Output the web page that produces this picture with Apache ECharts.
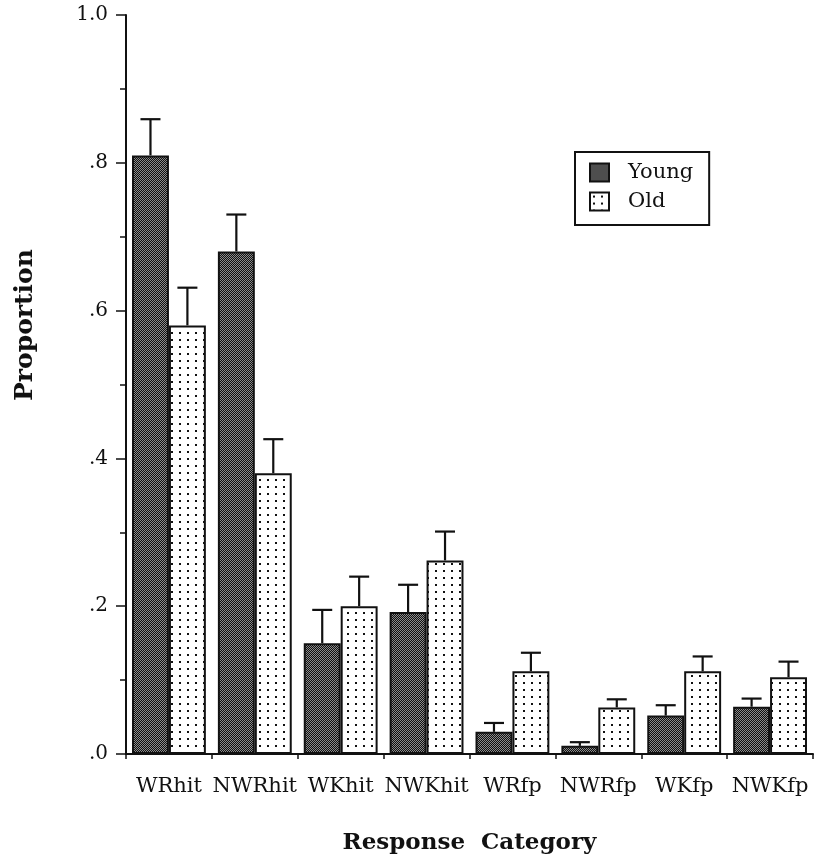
<!DOCTYPE html>
<html>
<head>
<meta charset="utf-8">
<script src="https://cdn.jsdelivr.net/npm/echarts@6/dist/echarts.min.js"></script>
<style>
html,body{margin:0;padding:0;background:#fff;overflow:hidden;}
#chart{width:814px;height:860px;}
</style>
</head>
<body>
<div id="chart"></div>
<script>
// ---- data ----
const categories = ['WRhit', 'NWRhit', 'WKhit', 'NWKhit', 'WRfp', 'NWRfp', 'WKfp', 'NWKfp'];
const youngValues = [0.81, 0.68, 0.15, 0.192, 0.03, 0.011, 0.052, 0.064];
const youngSE     = [0.049, 0.05, 0.045, 0.037, 0.012, 0.005, 0.014, 0.011];
const oldValues   = [0.58, 0.38, 0.20, 0.262, 0.112, 0.063, 0.112, 0.104];
const oldSE       = [0.051, 0.046, 0.04, 0.039, 0.025, 0.011, 0.02, 0.021];
const yTicks = [0, 0.2, 0.4, 0.6, 0.8, 1.0];
const yTickLabels = ['.0', '.2', '.4', '.6', '.8', '1.0'];
const seriesNames = ['Young', 'Old'];

// ---- patterns ----
function makeYoungPattern() {
  const c = document.createElement('canvas');
  c.width = 2; c.height = 2;
  const g = c.getContext('2d');
  g.fillStyle = '#101010';
  g.fillRect(0, 0, 2, 2);
  g.fillStyle = '#8c8c8c';
  g.fillRect(0, 0, 1, 1);
  g.fillRect(1, 1, 1, 1);
  return c;
}
function makeOldPattern() {
  const c = document.createElement('canvas');
  c.width = 8; c.height = 7;
  const g = c.getContext('2d');
  g.fillStyle = '#ffffff';
  g.fillRect(0, 0, 8, 7);
  g.fillStyle = '#111';
  g.fillRect(3, 3, 2, 2);
  return c;
}
const youngFill = { image: makeYoungPattern(), repeat: 'repeat' };
const oldFill = { image: makeOldPattern(), repeat: 'repeat' };

const BAR_FRAC = 0.43;
const serif = '"DejaVu Serif", "Liberation Serif", serif';

function errorSeries(values, se, side) {
  return {
    type: 'custom',
    z: 5,
    silent: true,
    data: values.map((v, i) => [i, v, v + se[i]]),
    renderItem: function (params, api) {
      const i = api.value(0);
      const base = api.coord([i, api.value(1)]);
      const top = api.coord([i, api.value(2)]);
      const bw = api.size([1, 0])[0];
      const x = base[0] + side * bw * BAR_FRAC / 2;
      const half = 10;
      const style = { stroke: '#111', lineWidth: 2.2, fill: null };
      return {
        type: 'group',
        children: [
          { type: 'line', shape: { x1: x, y1: base[1], x2: x, y2: top[1] }, style: style },
          { type: 'line', shape: { x1: x - half, y1: top[1], x2: x + half, y2: top[1] }, style: style }
        ]
      };
    }
  };
}

const chart = echarts.init(document.getElementById('chart'), null, { renderer: 'canvas' });
chart.setOption({
  backgroundColor: '#fff',
  animation: false,
  grid: { left: 126, right: 1, top: 15, bottom: 103, containLabel: false },
  legend: {
    data: seriesNames,
    orient: 'vertical',
    left: 575,
    top: 152,
    itemWidth: 19,
    itemHeight: 18,
    itemGap: 8,
    padding: [10, 16, 13, 14],
    borderColor: '#111',
    borderWidth: 2,
    backgroundColor: '#fff',
    textStyle: { fontFamily: serif, fontSize: 21, color: '#111', padding: [0, 0, 0, 14], lineHeight: 18 },
    icon: 'rect'
  },
  xAxis: {
    type: 'category',
    data: categories,
    axisLine: { lineStyle: { color: '#111', width: 2 } },
    axisTick: { show: true, length: 5, lineStyle: { color: '#111', width: 1.5 } },
    axisLabel: { interval: 0, margin: 22, fontFamily: serif, fontSize: 21, color: '#111' },
    name: 'Response  Category',
    nameLocation: 'middle',
    nameGap: 78,
    nameTextStyle: { fontFamily: serif, fontSize: 23, fontWeight: 'bold', color: '#111' }
  },
  yAxis: {
    type: 'value',
    min: 0,
    max: 1,
    interval: 0.2,
    splitLine: { show: false },
    axisLine: { show: true, lineStyle: { color: '#111', width: 2 } },
    axisTick: { show: true, length: 10, lineStyle: { color: '#111', width: 1.5 } },
    minorTick: { show: true, splitNumber: 2, length: 6, lineStyle: { color: '#111', width: 1.5 } },
    axisLabel: {
      margin: 18,
      fontFamily: serif,
      fontSize: 20,
      color: '#111',
      formatter: function (v) {
        const k = yTicks.findIndex(t => Math.abs(t - v) < 1e-9);
        return k >= 0 ? yTickLabels[k] : '';
      }
    }
  },
  graphic: [{
    type: 'text',
    x: 25,
    y: 325,
    rotation: Math.PI / 2,
    style: {
      text: 'Proportion',
      font: 'bold 25px ' + serif,
      fill: '#111',
      textAlign: 'center',
      textVerticalAlign: 'middle'
    }
  }],
  series: [
    {
      name: seriesNames[0],
      type: 'bar',
      data: youngValues,
      barWidth: (BAR_FRAC * 100) + '%',
      barGap: '0%',
      itemStyle: { color: youngFill, borderColor: '#111', borderWidth: 2 }
    },
    {
      name: seriesNames[1],
      type: 'bar',
      data: oldValues,
      barWidth: (BAR_FRAC * 100) + '%',
      barGap: '0%',
      itemStyle: { color: oldFill, borderColor: '#111', borderWidth: 2 }
    },
    errorSeries(youngValues, youngSE, -1),
    errorSeries(oldValues, oldSE, 1)
  ]
});
</script>
</body>
</html>
